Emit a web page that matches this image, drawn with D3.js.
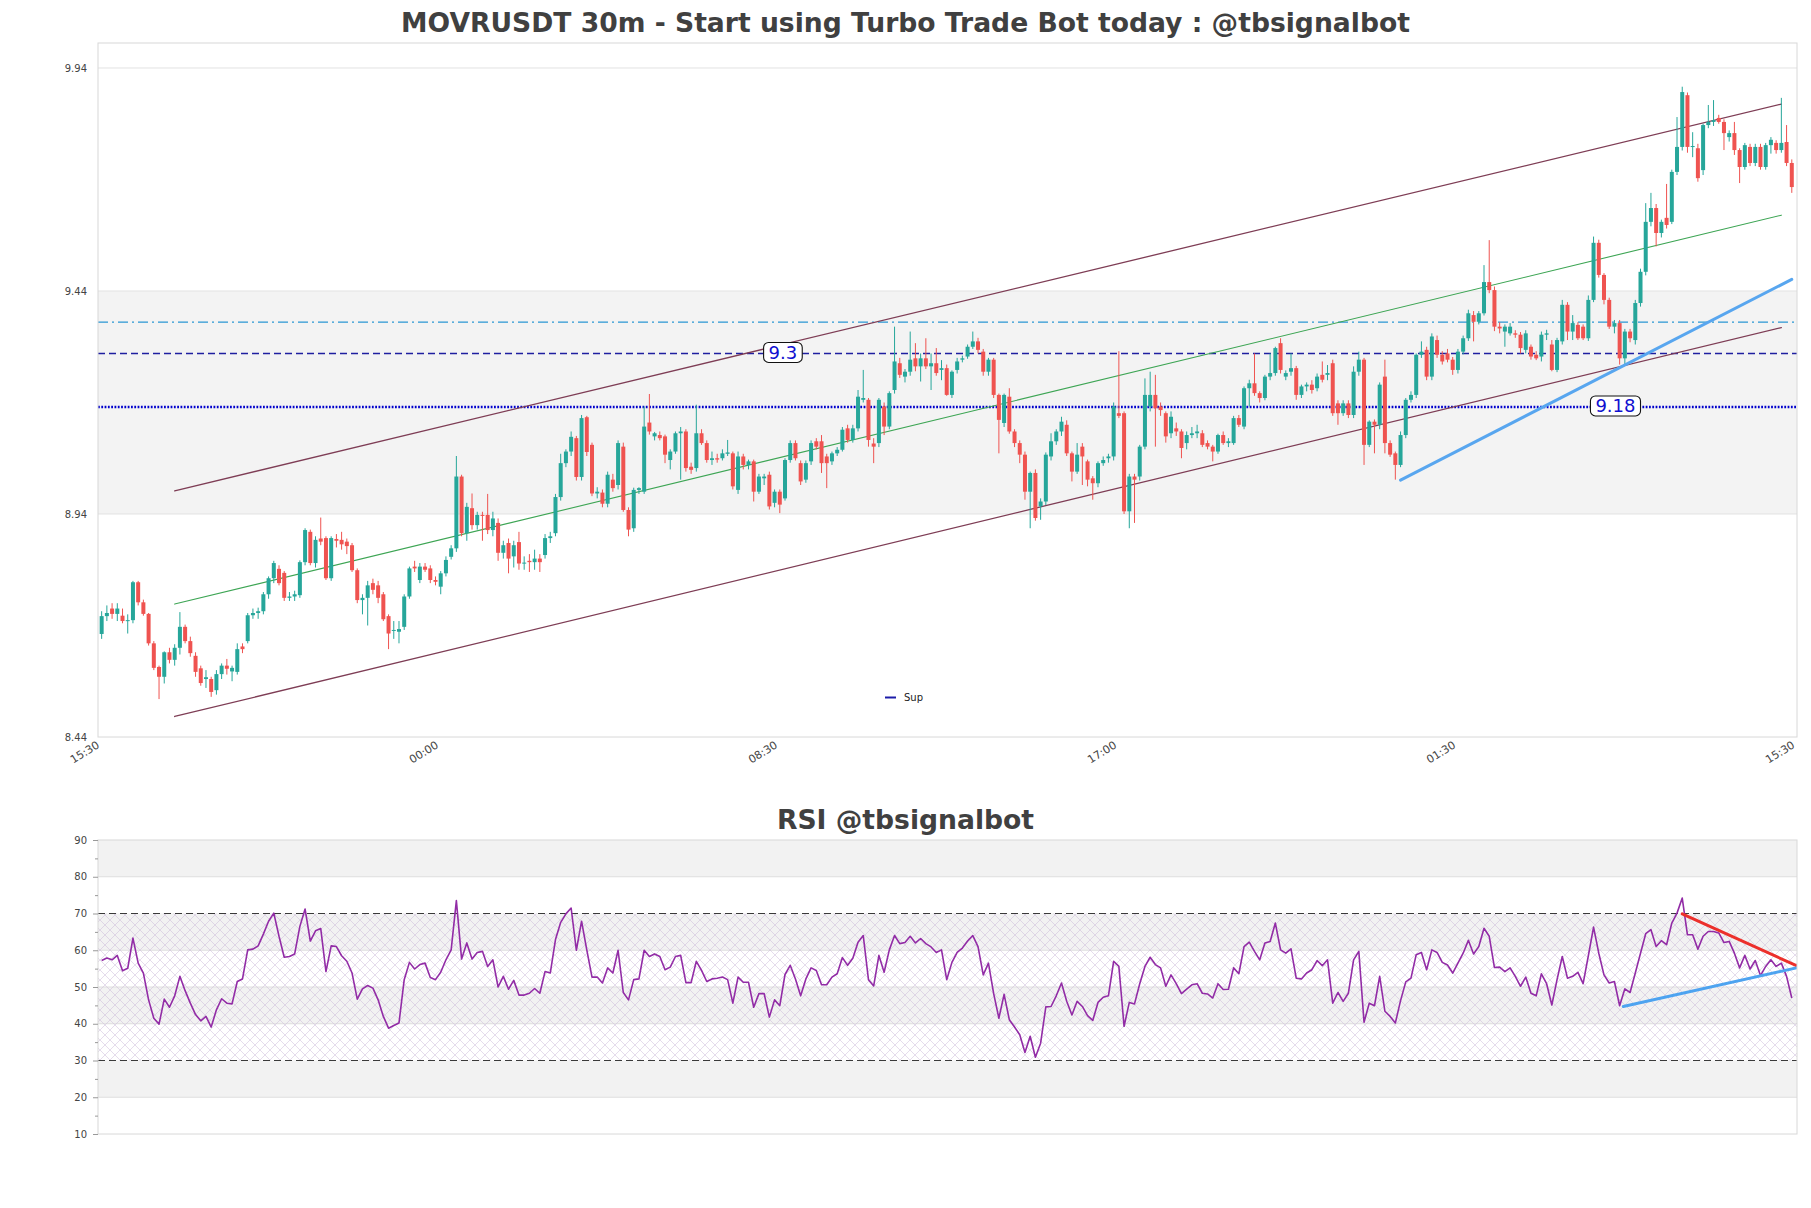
<!DOCTYPE html>
<html>
<head>
<meta charset="utf-8">
<script src="https://cdn.jsdelivr.net/npm/d3@7/dist/d3.min.js"></script>
<style>
  html, body { margin: 0; padding: 0; background: #ffffff; }
  svg { display: block; font-family: "DejaVu Sans", sans-serif; }
</style>
</head>
<body>
<svg id="chart" width="1811" height="1208"></svg>
<script>
// ---------------- DATA ----------------
const mainTitle = "MOVRUSDT 30m - Start using Turbo Trade Bot today : @tbsignalbot";
const rsiTitle = "RSI @tbsignalbot";
const timeLabels = ["15:30", "00:00", "08:30", "17:00", "01:30", "15:30"];
const timeTickIdx = [0, 65, 130, 195, 260, 325];
const priceTicks = [8.44, 8.94, 9.44, 9.94];
const rsiTicks = [10, 20, 30, 40, 50, 60, 70, 80, 90];
const rsiMinorTicks = [15, 25, 35, 45, 55, 65, 75, 85];

// candles: [open, high, low, close], one per 30m bar
const candles = [
[8.671,8.722,8.660,8.711],[8.711,8.735,8.700,8.718],[8.728,8.740,8.705,8.716],[8.716,8.740,8.700,8.728],[8.712,8.728,8.695,8.700],
[8.700,8.715,8.672,8.702],[8.702,8.790,8.695,8.787],[8.787,8.790,8.735,8.742],[8.742,8.748,8.712,8.716],[8.716,8.718,8.645,8.650],
[8.650,8.655,8.590,8.595],[8.597,8.600,8.525,8.575],[8.575,8.632,8.560,8.630],[8.630,8.640,8.605,8.613],[8.613,8.648,8.600,8.640],
[8.640,8.720,8.625,8.687],[8.687,8.692,8.650,8.655],[8.655,8.665,8.620,8.628],[8.622,8.630,8.575,8.586],[8.594,8.600,8.555,8.561],
[8.570,8.590,8.550,8.574],[8.570,8.575,8.530,8.541],[8.545,8.590,8.535,8.581],[8.581,8.605,8.570,8.600],[8.600,8.615,8.580,8.593],
[8.587,8.600,8.565,8.595],[8.586,8.650,8.580,8.637],[8.643,8.650,8.628,8.637],[8.655,8.718,8.650,8.713],[8.713,8.728,8.705,8.718],
[8.718,8.730,8.705,8.722],[8.722,8.765,8.715,8.760],[8.760,8.800,8.750,8.796],[8.796,8.835,8.785,8.830],[8.817,8.825,8.780,8.785],
[8.808,8.812,8.745,8.752],[8.752,8.765,8.745,8.755],[8.755,8.768,8.745,8.760],[8.758,8.836,8.752,8.832],[8.832,8.908,8.825,8.904],
[8.900,8.905,8.825,8.830],[8.830,8.890,8.820,8.882],[8.885,8.932,8.870,8.878],[8.886,8.890,8.792,8.796],[8.796,8.890,8.790,8.886],
[8.884,8.895,8.865,8.880],[8.882,8.900,8.860,8.872],[8.878,8.885,8.850,8.868],[8.870,8.875,8.810,8.814],[8.814,8.818,8.740,8.747],
[8.747,8.760,8.715,8.752],[8.752,8.790,8.690,8.780],[8.785,8.795,8.760,8.770],[8.780,8.790,8.740,8.752],[8.760,8.765,8.700,8.704],
[8.711,8.715,8.637,8.672],[8.678,8.700,8.660,8.680],[8.676,8.700,8.650,8.682],[8.687,8.760,8.680,8.755],[8.755,8.822,8.750,8.818],
[8.822,8.835,8.810,8.818],[8.792,8.830,8.785,8.822],[8.822,8.830,8.810,8.815],[8.818,8.825,8.785,8.792],[8.792,8.800,8.780,8.788],
[8.777,8.812,8.760,8.807],[8.807,8.845,8.800,8.837],[8.844,8.870,8.838,8.863],[8.863,9.070,8.855,9.024],[9.024,9.028,8.890,8.897],
[8.897,8.965,8.880,8.956],[8.953,8.986,8.905,8.915],[8.915,8.945,8.905,8.938],[8.938,8.945,8.880,8.936],[8.938,8.985,8.895,8.904],
[8.904,8.945,8.890,8.930],[8.920,8.930,8.835,8.853],[8.853,8.880,8.840,8.870],[8.875,8.885,8.807,8.840],[8.845,8.880,8.820,8.870],
[8.877,8.900,8.815,8.829],[8.829,8.845,8.815,8.831],[8.835,8.850,8.810,8.832],[8.832,8.860,8.815,8.840],[8.840,8.850,8.810,8.832],
[8.848,8.895,8.840,8.886],[8.886,8.900,8.875,8.890],[8.897,8.985,8.890,8.978],[8.978,9.075,8.970,9.054],[9.054,9.085,9.045,9.080],
[9.080,9.125,9.070,9.113],[9.110,9.115,9.015,9.023],[9.023,9.162,9.015,9.155],[9.157,9.160,9.070,9.079],[9.095,9.100,8.980,8.986],
[8.986,9.000,8.975,8.990],[8.988,8.995,8.955,8.963],[8.963,9.035,8.955,9.028],[9.017,9.030,8.990,8.998],[9.005,9.105,8.995,9.099],
[9.091,9.100,8.945,8.949],[8.949,8.955,8.890,8.905],[8.908,8.999,8.900,8.994],[8.994,9.000,8.985,8.998],[8.990,9.181,8.985,9.136],
[9.145,9.209,9.118,9.125],[9.114,9.124,9.105,9.121],[9.117,9.125,9.105,9.110],[9.114,9.118,9.054,9.073],[9.061,9.085,9.040,9.080],
[9.080,9.125,9.075,9.121],[9.121,9.135,9.017,9.125],[9.125,9.130,9.035,9.043],[9.046,9.055,9.030,9.039],[9.043,9.185,9.035,9.121],
[9.121,9.130,9.095,9.099],[9.099,9.105,9.055,9.061],[9.061,9.080,9.050,9.065],[9.065,9.075,9.055,9.062],[9.065,9.085,9.060,9.076],
[9.075,9.106,9.070,9.078],[9.076,9.080,8.995,9.002],[8.994,9.080,8.985,9.069],[9.069,9.075,9.040,9.050],[9.050,9.062,9.040,9.058],
[9.058,9.062,8.968,8.990],[8.990,9.030,8.985,9.024],[9.020,9.030,9.005,9.024],[9.028,9.035,8.950,8.957],[8.965,8.995,8.955,8.990],
[8.990,8.995,8.942,8.961],[8.975,9.065,8.970,9.061],[9.061,9.105,9.055,9.099],[9.099,9.105,9.060,9.065],[9.054,9.060,9.005,9.013],
[9.017,9.060,9.010,9.054],[9.058,9.105,9.050,9.099],[9.103,9.110,9.085,9.091],[9.103,9.117,9.032,9.054],[9.069,9.075,8.998,9.054],
[9.058,9.080,9.050,9.076],[9.076,9.090,9.070,9.084],[9.084,9.135,9.080,9.129],[9.132,9.140,9.100,9.106],[9.106,9.140,9.100,9.132],
[9.132,9.218,9.125,9.203],[9.196,9.263,9.190,9.200],[9.196,9.200,9.091,9.106],[9.098,9.110,9.054,9.091],[9.099,9.200,9.090,9.196],
[9.181,9.190,9.117,9.136],[9.136,9.215,9.130,9.211],[9.218,9.360,9.210,9.282],[9.278,9.290,9.245,9.252],[9.248,9.265,9.235,9.259],
[9.259,9.349,9.250,9.286],[9.289,9.323,9.260,9.271],[9.271,9.300,9.237,9.289],[9.289,9.334,9.265,9.271],[9.271,9.300,9.218,9.278],
[9.278,9.312,9.250,9.256],[9.263,9.285,9.240,9.267],[9.267,9.275,9.205,9.207],[9.207,9.262,9.200,9.259],[9.263,9.290,9.255,9.282],
[9.286,9.295,9.280,9.289],[9.293,9.320,9.288,9.315],[9.315,9.349,9.310,9.327],[9.327,9.335,9.300,9.308],[9.304,9.310,9.250,9.259],
[9.259,9.290,9.250,9.286],[9.286,9.290,9.200,9.207],[9.207,9.210,9.076,9.151],[9.144,9.210,9.135,9.207],[9.203,9.222,9.120,9.125],
[9.125,9.130,9.090,9.099],[9.099,9.105,9.054,9.073],[9.073,9.080,8.972,8.990],[8.990,9.035,8.908,9.032],[9.032,9.040,8.925,8.931],
[8.957,8.975,8.927,8.968],[8.968,9.078,8.960,9.073],[9.069,9.121,9.060,9.103],[9.103,9.130,9.095,9.125],[9.125,9.158,9.115,9.147],
[9.140,9.150,9.070,9.076],[9.076,9.080,9.013,9.035],[9.035,9.099,9.030,9.073],[9.091,9.099,9.005,9.069],[9.058,9.062,9.002,9.017],
[9.020,9.025,8.972,9.009],[9.009,9.058,9.000,9.054],[9.054,9.069,9.048,9.061],[9.065,9.075,9.055,9.069],[9.069,9.190,9.060,9.181],
[9.166,9.305,9.155,9.160],[9.166,9.170,8.940,8.946],[8.946,9.030,8.908,9.024],[9.024,9.030,8.920,9.017],[9.024,9.095,9.015,9.091],
[9.091,9.244,9.085,9.207],[9.181,9.259,9.170,9.207],[9.207,9.252,9.091,9.177],[9.181,9.190,9.160,9.173],[9.166,9.170,9.100,9.114],
[9.121,9.170,9.110,9.158],[9.132,9.145,9.115,9.125],[9.125,9.130,9.065,9.088],[9.099,9.125,9.085,9.117],[9.117,9.135,9.110,9.121],
[9.121,9.140,9.110,9.125],[9.121,9.128,9.090,9.095],[9.099,9.105,9.085,9.091],[9.091,9.095,9.058,9.080],[9.080,9.120,9.075,9.117],
[9.117,9.125,9.095,9.099],[9.099,9.110,9.090,9.103],[9.099,9.160,9.095,9.155],[9.155,9.162,9.135,9.140],[9.136,9.226,9.130,9.222],
[9.222,9.241,9.181,9.233],[9.233,9.300,9.205,9.211],[9.211,9.215,9.190,9.200],[9.200,9.252,9.195,9.248],[9.248,9.300,9.240,9.256],
[9.256,9.315,9.250,9.312],[9.323,9.334,9.255,9.263],[9.248,9.262,9.240,9.256],[9.259,9.300,9.250,9.267],[9.267,9.272,9.196,9.207],
[9.207,9.230,9.200,9.226],[9.226,9.235,9.215,9.230],[9.230,9.240,9.210,9.218],[9.222,9.255,9.215,9.248],[9.252,9.282,9.235,9.241],
[9.252,9.274,9.240,9.256],[9.278,9.286,9.160,9.166],[9.188,9.195,9.140,9.166],[9.166,9.195,9.160,9.188],[9.188,9.195,9.155,9.162],
[9.162,9.271,9.155,9.259],[9.259,9.304,9.250,9.286],[9.286,9.290,9.050,9.095],[9.095,9.150,9.090,9.147],[9.147,9.152,9.076,9.140],
[9.140,9.235,9.130,9.230],[9.248,9.286,9.076,9.099],[9.099,9.105,9.068,9.073],[9.076,9.080,9.017,9.050],[9.050,9.125,9.045,9.117],
[9.117,9.200,9.110,9.196],[9.196,9.215,9.190,9.207],[9.207,9.300,9.200,9.297],[9.297,9.327,9.290,9.304],[9.308,9.315,9.240,9.248],
[9.248,9.345,9.240,9.338],[9.330,9.340,9.290,9.297],[9.297,9.305,9.275,9.282],[9.300,9.310,9.280,9.286],[9.286,9.292,9.252,9.263],
[9.263,9.310,9.255,9.304],[9.304,9.340,9.298,9.334],[9.334,9.398,9.328,9.390],[9.386,9.395,9.327,9.371],[9.371,9.395,9.365,9.390],
[9.390,9.498,9.385,9.460],[9.460,9.554,9.435,9.442],[9.442,9.450,9.350,9.360],[9.360,9.370,9.345,9.356],[9.349,9.365,9.315,9.360],
[9.345,9.368,9.340,9.360],[9.345,9.352,9.335,9.342],[9.342,9.348,9.300,9.312],[9.308,9.352,9.300,9.345],[9.315,9.320,9.286,9.293],
[9.297,9.305,9.285,9.289],[9.293,9.349,9.282,9.342],[9.342,9.353,9.330,9.345],[9.320,9.330,9.260,9.263],[9.263,9.335,9.258,9.330],
[9.327,9.420,9.320,9.409],[9.409,9.415,9.330,9.349],[9.349,9.386,9.330,9.368],[9.364,9.370,9.330,9.334],[9.360,9.365,9.330,9.334],
[9.334,9.430,9.328,9.420],[9.420,9.562,9.415,9.548],[9.548,9.555,9.470,9.476],[9.476,9.480,9.410,9.420],[9.420,9.425,9.355,9.360],
[9.360,9.375,9.345,9.368],[9.368,9.375,9.275,9.289],[9.289,9.355,9.275,9.349],[9.349,9.355,9.325,9.334],[9.330,9.420,9.320,9.413],
[9.413,9.490,9.405,9.483],[9.483,9.637,9.475,9.595],[9.595,9.660,9.585,9.626],[9.626,9.635,9.540,9.570],[9.570,9.600,9.560,9.595],
[9.604,9.680,9.580,9.588],[9.595,9.712,9.590,9.707],[9.707,9.830,9.700,9.763],[9.763,9.898,9.755,9.886],[9.879,9.885,9.750,9.763],
[9.763,9.796,9.740,9.765],[9.760,9.770,9.685,9.693],[9.711,9.815,9.700,9.812],[9.812,9.857,9.805,9.819],[9.819,9.868,9.810,9.823],
[9.828,9.835,9.815,9.819],[9.819,9.825,9.756,9.794],[9.785,9.800,9.775,9.794],[9.794,9.819,9.745,9.756],[9.756,9.760,9.682,9.718],
[9.718,9.772,9.712,9.767],[9.763,9.770,9.720,9.727],[9.727,9.770,9.720,9.763],[9.763,9.770,9.712,9.718],[9.718,9.772,9.712,9.767],
[9.767,9.785,9.748,9.779],[9.772,9.778,9.748,9.756],[9.756,9.873,9.750,9.772],[9.774,9.812,9.720,9.727],[9.727,9.735,9.660,9.673]
];

// RSI value per bar
const rsiValues = [
57.2,57.9,57.4,58.6,54.4,55.1,63.3,56.5,53.8,46.5,
41.5,39.9,46.7,44.5,47.6,52.9,49.0,45.6,42.5,40.8,
42.0,39.1,43.8,46.8,45.6,45.4,51.5,52.2,60.1,60.3,
61.2,64.4,67.9,70.1,63.8,58.1,58.3,59.0,66.5,71.2,
62.5,65.3,65.9,54.2,61.2,61.0,58.5,57.0,53.8,46.7,
49.5,50.4,49.7,46.5,42.0,38.8,39.5,40.2,52.0,56.7,
54.9,56.1,56.5,52.6,52.0,54.0,57.4,60.1,73.5,57.6,
62.0,57.6,59.4,59.7,55.6,57.4,50.0,52.9,49.4,51.8,
47.8,47.8,48.3,49.6,48.3,54.2,53.8,62.9,67.6,69.9,
71.5,60.0,67.9,60.1,52.7,52.7,
51.1,55.2,53.8,60.0,48.5,46.5,52.0,52.2,60.0,58.3,
59.0,58.3,54.7,55.4,58.3,58.6,51.2,51.2,57.0,54.5,
51.5,52.2,52.4,
52.7,52.0,45.6,52.7,51.3,51.3,44.5,48.2,48.2,41.8,
46.5,44.9,53.4,55.9,52.2,47.6,52.2,55.2,54.5,50.6,
50.6,52.7,53.6,58.0,55.9,57.8,62.2,64.0,52.0,50.3,
58.6,54.0,60.1,64.0,61.8,62.1,63.8,62.0,63.2,61.8,
60.9,59.4,60.1,52.0,56.7,59.4,60.6,62.5,64.0,61.0,
53.3,56.5,48.2,41.5,48.0,41.1,39.1,37.0,32.2,36.6,
30.9,34.7,44.6,44.7,47.6,51.1,46.1,42.4,46.1,44.7,
42.2,40.9,45.8,47.2,47.6,57.0,55.6,39.3,45.8,45.4,
50.9,55.6,58.1,56.1,55.2,50.2,53.3,50.9,48.2,49.4,
50.6,50.9,
48.3,48.1,47.0,50.9,49.3,49.4,55.2,53.6,61.0,62.2,
59.7,57.4,62.0,62.4,67.4,60.1,59.2,60.4,52.4,52.2,
53.8,54.7,57.2,55.8,57.4,45.6,48.5,46.1,48.3,57.4,
59.7,40.4,45.6,44.9,52.9,43.4,42.0,40.2,46.3,51.4,
52.4,58.8,59.4,54.7,60.1,59.4,56.7,56.0,53.8,56.5,
59.2,62.7,59.0,61.0,66.0,63.8,55.3,55.4,54.2,55.2,
52.9,50.2,52.7,48.3,47.6,53.6,50.9,45.1,52.0,58.3,
52.4,52.9,54.0,50.9,58.5,66.3,59.2,53.3,51.1,51.5,
44.9,49.5,48.5,53.8,59.2,64.5,65.6,61.0,62.6,61.5,
67.4,70.1,74.2,64.2,64.2,60.3,63.8,65.1,65.1,64.7,
62.1,62.4,59.2,55.2,58.6,54.9,57.2,53.1,55.6,57.4,
55.6,56.5,52.9,47.0
];

// horizontal levels
const levelValues = [9.37, 9.30, 9.18];
// labelled levels: [bar position, value, text]
const levelTags = [[130.6, 9.30, "9.3"], [290.2, 9.18, "9.18"]];

// regression channel and trend lines: [bar, value] end points
const channelUpper = [[14, 8.992], [322, 9.859]];
const channelMid = [[14, 8.738], [322, 9.610]];
const channelLower = [[14, 8.486], [322, 9.358]];
const priceTrend = [[249, 9.016], [324, 9.466]];
const rsiResistance = [[303, 69.9], [324.9, 55.8]];
const rsiSupport = [[291.7, 44.7], [324.9, 55.2]];
const rsiBands = [[80, 90], [60, 70], [40, 50], [20, 30]];
const rsiGuides = [70, 30];
const legendItems = ["Sup"];

// ---------------- LAYOUT ----------------
const W = 1811, H = 1208;
const L = 98, R = 1797;
const mainTop = 43, mainBot = 737;
const rsiTop = 840, rsiBot = 1134;

const svg = d3.select("#chart");
const defs = svg.append("defs");

defs.append("clipPath").attr("id", "clipMain")
  .append("rect").attr("x", L).attr("y", mainTop).attr("width", R - L).attr("height", mainBot - mainTop);
defs.append("clipPath").attr("id", "clipRsi")
  .append("rect").attr("x", L).attr("y", rsiTop).attr("width", R - L).attr("height", rsiBot - rsiTop);

const hatch = defs.append("pattern").attr("id", "hatch")
  .attr("patternUnits", "userSpaceOnUse").attr("width", 10).attr("height", 10);
hatch.append("path").attr("d", "M0,0 L10,10 M10,0 L0,10 M-1,9 L1,11 M9,-1 L11,1")
  .attr("stroke", "#c8b6d6").attr("stroke-width", 0.6).attr("fill", "none").attr("opacity", 0.8);

const x = d3.scaleLinear().domain([-0.7, 325]).range([L, R]);
const y = d3.scaleLinear().domain([8.44, 9.996]).range([mainBot, mainTop]);
const yR = d3.scaleLinear().domain([10, 90]).range([rsiBot, rsiTop]);

// ---------------- TITLES ----------------
svg.append("text").attr("x", W / 2).attr("y", 32).attr("text-anchor", "middle")
  .attr("font-size", 26.6).attr("font-weight", "bold").attr("fill", "#404040").text(mainTitle);
svg.append("text").attr("x", W / 2).attr("y", 829).attr("text-anchor", "middle")
  .attr("font-size", 26.6).attr("font-weight", "bold").attr("fill", "#404040").text(rsiTitle);

// ---------------- MAIN PANEL ----------------
const main = svg.append("g");
main.append("rect").attr("x", L).attr("width", R - L)
  .attr("y", y(priceTicks[2])).attr("height", y(priceTicks[1]) - y(priceTicks[2]))
  .attr("fill", "#f3f3f3");
main.selectAll("line.grid").data(priceTicks.slice(1)).enter().append("line")
  .attr("x1", L).attr("x2", R).attr("y1", d => y(d)).attr("y2", d => y(d))
  .attr("stroke", "#e2e2e2").attr("stroke-width", 1);

// y axis
const yAxis = d3.axisLeft(y).tickValues(priceTicks).tickFormat(d3.format(".2f")).tickSize(0).tickPadding(11);
const gy = svg.append("g").attr("transform", `translate(${L},0)`).call(yAxis);
gy.select(".domain").remove();
gy.selectAll("text").attr("font-size", 10).attr("fill", "#444").attr("font-family", "DejaVu Sans");

// x axis
const xAxis = d3.axisBottom(x).tickValues(timeTickIdx).tickFormat((d, i) => timeLabels[i]).tickSize(0);
const gx = svg.append("g").attr("transform", `translate(0,${mainBot})`).call(xAxis);
gx.select(".domain").remove();
gx.selectAll("text").attr("x", 0).attr("y", 0).attr("dy", 0)
  .attr("transform", "translate(-2,10) rotate(-32)")
  .attr("text-anchor", "end").attr("font-size", 11).attr("fill", "#444").attr("font-family", "DejaVu Sans");

const plot = main.append("g").attr("clip-path", "url(#clipMain)");

// horizontal levels
const levelStyles = [
  { stroke: "#2a97d4", width: 1.3, dash: "10,4,2,4" },
  { stroke: "#1f1fa0", width: 1.5, dash: "7,4" },
  { stroke: "#0000cc", width: 2.6, dash: "1.8,1.5" }
];
levelValues.forEach((v, i) => {
  plot.append("line").attr("x1", L).attr("x2", R).attr("y1", y(v)).attr("y2", y(v))
    .attr("stroke", levelStyles[i].stroke).attr("stroke-width", levelStyles[i].width)
    .attr("stroke-dasharray", levelStyles[i].dash);
});

const seg = (g, pts, sx, sy, color, w) => g.append("line")
  .attr("x1", sx(pts[0][0])).attr("y1", sy(pts[0][1]))
  .attr("x2", sx(pts[1][0])).attr("y2", sy(pts[1][1]))
  .attr("stroke", color).attr("stroke-width", w).attr("stroke-linecap", "round");

seg(plot, channelUpper, x, y, "#7e3d55", 1.3);
seg(plot, channelLower, x, y, "#7e3d55", 1.3);
seg(plot, channelMid, x, y, "#3da554", 1.1);

// candles
const upColor = "#26a69a", downColor = "#ef5350";
const bodyW = 4;
const cg = plot.append("g");
cg.selectAll("line.wick").data(candles).enter().append("line")
  .attr("x1", (d, i) => x(i)).attr("x2", (d, i) => x(i))
  .attr("y1", d => y(d[1])).attr("y2", d => y(d[2]))
  .attr("stroke", d => d[3] >= d[0] ? upColor : downColor).attr("stroke-width", 1);
cg.selectAll("rect.body").data(candles).enter().append("rect")
  .attr("x", (d, i) => x(i) - bodyW / 2).attr("width", bodyW)
  .attr("y", d => y(Math.max(d[0], d[3])))
  .attr("height", d => Math.max(1, Math.abs(y(d[0]) - y(d[3]))))
  .attr("fill", d => d[3] >= d[0] ? upColor : downColor);

seg(plot, priceTrend, x, y, "#58a6ef", 3);

// level tags
levelTags.forEach(t => {
  const g = main.append("g");
  const txt = g.append("text").attr("x", x(t[0])).attr("y", y(t[1]) - 1)
    .attr("text-anchor", "middle").attr("dominant-baseline", "central")
    .attr("font-size", 18).attr("fill", "#1010d0").text(t[2]);
  const w = txt.node().getComputedTextLength() + 10;
  g.insert("rect", "text").attr("x", x(t[0]) - w / 2).attr("y", y(t[1]) - 1 - 10)
    .attr("width", w).attr("height", 20).attr("rx", 5).attr("ry", 5)
    .attr("fill", "#ffffff").attr("stroke", "#111").attr("stroke-width", 1.1);
});

// legend
const lg = main.append("g");
legendItems.forEach((name, i) => {
  lg.append("line").attr("x1", 885).attr("x2", 896).attr("y1", 697.5).attr("y2", 697.5)
    .attr("stroke", "#1c1ca8").attr("stroke-width", 2);
  lg.append("text").attr("x", 904).attr("y", 701).attr("font-size", 10).attr("fill", "#222").text(name);
});

main.append("rect").attr("x", L).attr("y", mainTop).attr("width", R - L).attr("height", mainBot - mainTop)
  .attr("fill", "none").attr("stroke", "#d8d8d8").attr("stroke-width", 1);

// ---------------- RSI PANEL ----------------
const rp = svg.append("g");
rp.selectAll("rect.band").data(rsiBands).enter().append("rect")
  .attr("x", L).attr("width", R - L)
  .attr("y", d => yR(d[1])).attr("height", d => yR(d[0]) - yR(d[1]))
  .attr("fill", "#f2f2f2");
rp.selectAll("line.grid").data(rsiTicks.filter(v => v > 10 && v < 90 && v !== 70 && v !== 30)).enter().append("line")
  .attr("x1", L).attr("x2", R).attr("y1", d => yR(d)).attr("y2", d => yR(d))
  .attr("stroke", "#dedede").attr("stroke-width", 1);
rp.append("rect").attr("x", L).attr("width", R - L)
  .attr("y", yR(70)).attr("height", yR(30) - yR(70)).attr("fill", "url(#hatch)");
rp.selectAll("line.guide").data(rsiGuides).enter().append("line")
  .attr("x1", L).attr("x2", R).attr("y1", d => yR(d)).attr("y2", d => yR(d))
  .attr("stroke", "#3a3a3a").attr("stroke-width", 1.2).attr("stroke-dasharray", "7,4");

const rplot = rp.append("g").attr("clip-path", "url(#clipRsi)");
const rsiLine = d3.line().x((d, i) => x(i)).y(d => yR(d));
rplot.append("path").datum(rsiValues).attr("d", rsiLine)
  .attr("fill", "none").attr("stroke", "#922ca6").attr("stroke-width", 1.6).attr("stroke-linejoin", "round");
seg(rplot, rsiResistance, x, yR, "#ec2f2b", 3);
seg(rplot, rsiSupport, x, yR, "#4da3f0", 3);

const ryAxis = d3.axisLeft(yR).tickValues(rsiTicks).tickSize(5).tickPadding(6);
const gry = svg.append("g").attr("transform", `translate(${L},0)`).call(ryAxis);
gry.select(".domain").remove();
gry.selectAll("line").attr("stroke", "#999");
gry.selectAll("text").attr("font-size", 10).attr("fill", "#444").attr("font-family", "DejaVu Sans");
const gryMinor = svg.append("g").attr("transform", `translate(${L},0)`)
  .call(d3.axisLeft(yR).tickValues(rsiMinorTicks).tickSize(3).tickFormat(""));
gryMinor.select(".domain").remove();
gryMinor.selectAll("line").attr("stroke", "#999");

rp.append("rect").attr("x", L).attr("y", rsiTop).attr("width", R - L).attr("height", rsiBot - rsiTop)
  .attr("fill", "none").attr("stroke", "#d8d8d8").attr("stroke-width", 1);
</script>
</body>
</html>
